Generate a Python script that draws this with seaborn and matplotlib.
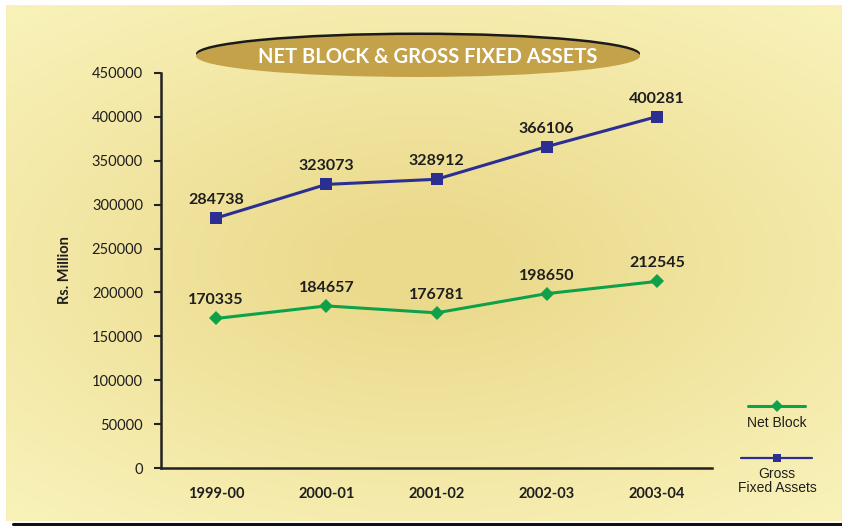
import numpy as np
import pandas as pd
import matplotlib
matplotlib.use("Agg")
import matplotlib.pyplot as plt
from matplotlib.patches import Ellipse
from matplotlib.lines import Line2D
from matplotlib.colors import LinearSegmentedColormap
import seaborn as sns

# ---- data ----
years = ["1999-00", "2000-01", "2001-02", "2002-03", "2003-04"]
net_block = [170335, 184657, 176781, 198650, 212545]
gross_fixed_assets = [284738, 323073, 328912, 366106, 400281]
series_names = ["Net Block", "Gross\nFixed Assets"]
title = "NET BLOCK & GROSS FIXED ASSETS"
y_label = "Rs. Million"
y_ticks = list(range(0, 450001, 50000))

sns.set_theme(style="white")
plt.rcParams["font.family"] = ["Lato", "DejaVu Sans"]

W, H = 842, 526
fig = plt.figure(figsize=(W / 100, H / 100), dpi=100)
fig.patch.set_facecolor("white")

# background gradient panel
bg = fig.add_axes([6 / W, 5 / H, 1 - 6 / W, 1 - 10 / H])
yy, xx = np.mgrid[0:1:200j, 0:1:300j]
d = np.sqrt(((xx - 0.5) / 0.8) ** 2 + ((yy - 0.5) / 0.7) ** 2)
cmap = LinearSegmentedColormap.from_list("bg", ["#EBDA8C", "#F8F1B8"])
bg.imshow(d, cmap=cmap, aspect="auto", extent=[0, 1, 0, 1], vmin=0.1, vmax=0.9)
bg.set_axis_off()
# bottom border line
fig.add_artist(Line2D([13 / W, 1], [2 / H, 2 / H], color="#111111", lw=2.2,
                      transform=fig.transFigure))

# title ellipse
cx, cy = 418 / W, 1 - 56 / H
ew, eh = 444 / W, 42 / H
fig.add_artist(Ellipse((cx, cy + 2.5 / H), ew, eh, transform=fig.transFigure,
                       facecolor="#1A1A1A", edgecolor="none", zorder=5))
fig.add_artist(Ellipse((cx, cy), ew, eh, transform=fig.transFigure,
                       facecolor="#C4A24A", edgecolor="none", zorder=6))
fig.text(428 / W, 1 - 57 / H, title, color="white", fontsize=14.5, fontweight="bold",
         ha="center", va="center", zorder=7)

# main axes
ax = fig.add_axes([161 / W, 1 - 468 / H, (712 - 161) / W, (468 - 73) / H])
ax.patch.set_alpha(0)

df = pd.DataFrame({"Year": years * 2,
                   "Value": net_block + gross_fixed_assets,
                   "Series": [series_names[0]] * 5 + [series_names[1]] * 5})
colors = {series_names[0]: "#0FA14A", series_names[1]: "#2B2F92"}
markers = {series_names[0]: "D", series_names[1]: "s"}
for name in series_names:
    sub = df[df["Series"] == name]
    sns.lineplot(data=sub, x="Year", y="Value", ax=ax, color=colors[name],
                 marker=markers[name], markersize=7 if name == series_names[0] else 8,
                 markeredgewidth=0, linewidth=2.2, sort=False, legend=False)
    for i, (xv, yv) in enumerate(zip(sub["Year"], sub["Value"])):
        ax.annotate(f"{yv}", (i, yv), xytext=(0, 13), textcoords="offset points",
                    ha="center", va="center", fontsize=11.5, fontweight="bold",
                    color="#1E1E1E")

ax.set_xlim(-0.5, 4.5)
ax.set_ylim(0, 450000)
ax.set_yticks(y_ticks)
ax.set_yticklabels([str(v) for v in y_ticks])
ax.set_xticks(range(len(years)))
ax.set_xticklabels(years, fontweight="bold")
ax.set_xticks(np.arange(-0.5, 4.6, 1), minor=True)
ax.tick_params(axis="x", which="major", length=0, pad=14, labelsize=10.5, colors="#1E1E1E")
ax.tick_params(axis="x", which="minor", length=4, width=1.8, direction="out", color="#222222")
ax.tick_params(axis="y", length=5, width=1.5, direction="out", pad=8, labelsize=10.5,
               colors="#1E1E1E", left=True)
ax.tick_params(axis="y", color="#222222")
ax.set_xlabel("")
ax.set_ylabel(y_label, fontsize=10.5, fontweight="bold", color="#1E1E1E", labelpad=14)
for s in ["top", "right"]:
    ax.spines[s].set_visible(False)
for s in ["left", "bottom"]:
    ax.spines[s].set_color("#222222")
    ax.spines[s].set_linewidth(1.8)
ax.grid(False)

# legend (manual, text under the handle)
lx = 777 / W
fig.add_artist(Line2D([748 / W, 805 / W], [1 - 406 / H] * 2, color=colors[series_names[0]],
                      lw=2.2, transform=fig.transFigure))
fig.add_artist(Line2D([lx], [1 - 406 / H], color=colors[series_names[0]], marker="D",
                      markersize=6, markeredgewidth=0, transform=fig.transFigure))
fig.text(lx, 1 - 423 / H, series_names[0], ha="center", va="center", fontsize=10,
         family=["Liberation Sans"], color="#1E1E1E")
fig.add_artist(Line2D([741 / W, 812 / W], [1 - 458 / H] * 2, color=colors[series_names[1]],
                      lw=1.6, transform=fig.transFigure))
fig.add_artist(Line2D([lx], [1 - 458 / H], color=colors[series_names[1]], marker="s",
                      markersize=6, markeredgewidth=0, transform=fig.transFigure))
fig.text(lx, 1 - 481 / H, series_names[1], ha="center", va="center", fontsize=10,
         family=["Liberation Sans"], color="#1E1E1E", linespacing=1.05)

fig.savefig("out.png", dpi=100)
